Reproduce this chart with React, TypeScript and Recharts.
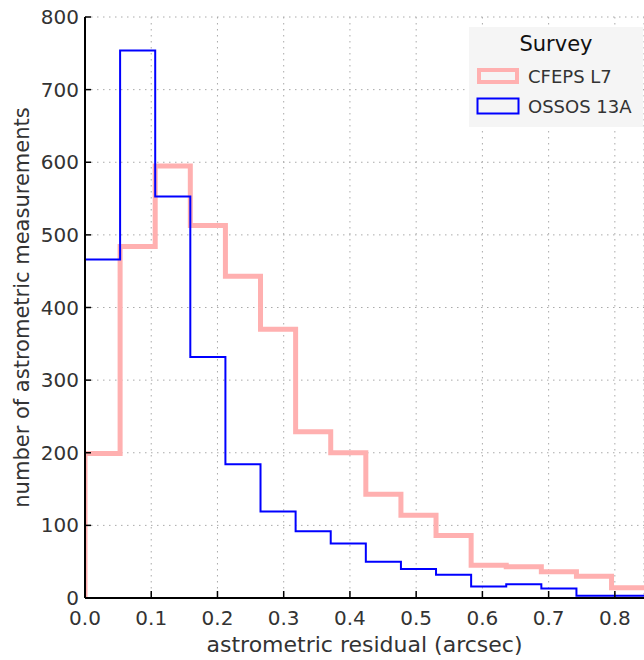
import React from 'react';
import { LineChart, Line, XAxis, YAxis, CartesianGrid, Legend } from 'recharts';

// left edges of the histogram bins (arcsec); the last edge closes the final bin
const binEdges = [0, 0.053, 0.106, 0.159, 0.212, 0.265, 0.318, 0.371, 0.424, 0.477, 0.53, 0.583, 0.636, 0.689, 0.742, 0.795, 0.848];
// counts per bin
const cfepsCounts = [199, 484, 595, 513, 443, 370, 229, 200, 143, 114, 86, 45, 43, 36, 30, 14];
const ossosCounts = [466, 754, 553, 332, 184, 119, 92, 75, 50, 40, 32, 16, 19, 13, 3, 3];

const xTicks = [0, 0.1, 0.2, 0.3, 0.4, 0.5, 0.6, 0.7, 0.8];
const yTicks = [0, 100, 200, 300, 400, 500, 600, 700, 800];

const FONT = '"DejaVu Sans", sans-serif';
const TEXT = '#333';

// step outline: start on the baseline, then one point per bin edge
const data = [
    { x: binEdges[0], cfeps: 0, ossos: 0 },
    ...cfepsCounts.map((c, i) => ({ x: binEdges[i], cfeps: c, ossos: ossosCounts[i] })),
    {
        x: binEdges[binEdges.length - 1],
        cfeps: cfepsCounts[cfepsCounts.length - 1],
        ossos: ossosCounts[ossosCounts.length - 1],
    },
];

const YTitle = (props: any) => {
    const vb = props.viewBox || { x: 0, y: 17, width: 85, height: 581 };
    const cx = 22;
    const cy = vb.y + vb.height / 2;
    return (
        <text
            x={cx}
            y={cy}
            transform={`rotate(-90, ${cx}, ${cy})`}
            textAnchor="middle"
            dominantBaseline="central"
            fill={TEXT}
            fontSize={21}
            fontFamily={FONT}
        >
            number of astrometric measurements
        </text>
    );
};

const SurveyLegend = (props: any) => {
    const items = props.payload || [];
    return (
        <div
            style={{
                background: '#f5f5f5',
                width: 174,
                height: 100,
                fontFamily: FONT,
                color: TEXT,
                boxSizing: 'border-box',
            }}
        >
            <div style={{ height: 34, lineHeight: '34px', textAlign: 'center', fontSize: 21, color: '#111' }}>Survey</div>
            {items.map((it: any) => {
                const sw = it.payload?.strokeWidth ?? 2;
                return (
                    <div key={it.value} style={{ height: 30, display: 'flex', alignItems: 'center', paddingLeft: 7 }}>
                        <svg width={44} height={18} style={{ display: 'block' }}>
                            <rect
                                x={sw / 2 + 0.5}
                                y={sw / 2 + 0.5}
                                width={43 - sw}
                                height={17 - sw}
                                fill="none"
                                stroke={it.color}
                                strokeWidth={sw === 2 ? 2 : 4}
                            />
                        </svg>
                        <span style={{ marginLeft: 8, fontSize: 18 }}>{it.value}</span>
                    </div>
                );
            })}
        </div>
    );
};

export default function App() {
    return (
        <div style={{ position: 'absolute', left: 0, top: 0 }}>
            <LineChart width={644} height={660} data={data} margin={{ top: 17, right: 0, left: 0, bottom: 0 }}>
                <CartesianGrid stroke="#aaa" strokeDasharray="1.5 4.5" strokeWidth={1} />
                <XAxis
                    dataKey="x"
                    type="number"
                    domain={[0, 0.844]}
                    allowDataOverflow
                    ticks={xTicks}
                    interval={0}
                    tickFormatter={(v: number) => v.toFixed(1)}
                    tickSize={-7}
                    tickMargin={20}
                    height={62}
                    axisLine={{ stroke: '#000', strokeWidth: 2 }}
                    tickLine={{ stroke: '#000', strokeWidth: 1.5 }}
                    tick={{ fill: TEXT, fontSize: 20, fontFamily: FONT }}
                    label={{
                        value: 'astrometric residual (arcsec)',
                        position: 'insideBottom',
                        offset: 8,
                        fill: TEXT,
                        fontSize: 22,
                        fontFamily: FONT,
                    }}
                />
                <YAxis
                    type="number"
                    domain={[0, 800]}
                    ticks={yTicks}
                    interval={0}
                    width={85}
                    tickSize={-6}
                    tickMargin={12}
                    axisLine={{ stroke: '#000', strokeWidth: 2 }}
                    tickLine={{ stroke: '#000', strokeWidth: 1.5 }}
                    tick={{ fill: TEXT, fontSize: 20, fontFamily: FONT }}
                    label={<YTitle />}
                />
                <Legend
                    layout="vertical"
                    align="center"
                    verticalAlign="middle"
                    wrapperStyle={{ top: 27, left: 469, width: 174 }}
                    content={<SurveyLegend />}
                />
                <Line
                    type="stepAfter"
                    dataKey="cfeps"
                    name="CFEPS L7"
                    stroke="#ffb0b0"
                    strokeWidth={5}
                    strokeLinejoin="miter"
                    dot={false}
                    activeDot={false}
                    isAnimationActive={false}
                />
                <Line
                    type="stepAfter"
                    dataKey="ossos"
                    name="OSSOS 13A"
                    stroke="#0000ff"
                    strokeWidth={2}
                    strokeLinejoin="miter"
                    dot={false}
                    activeDot={false}
                    isAnimationActive={false}
                />
            </LineChart>
        </div>
    );
}
